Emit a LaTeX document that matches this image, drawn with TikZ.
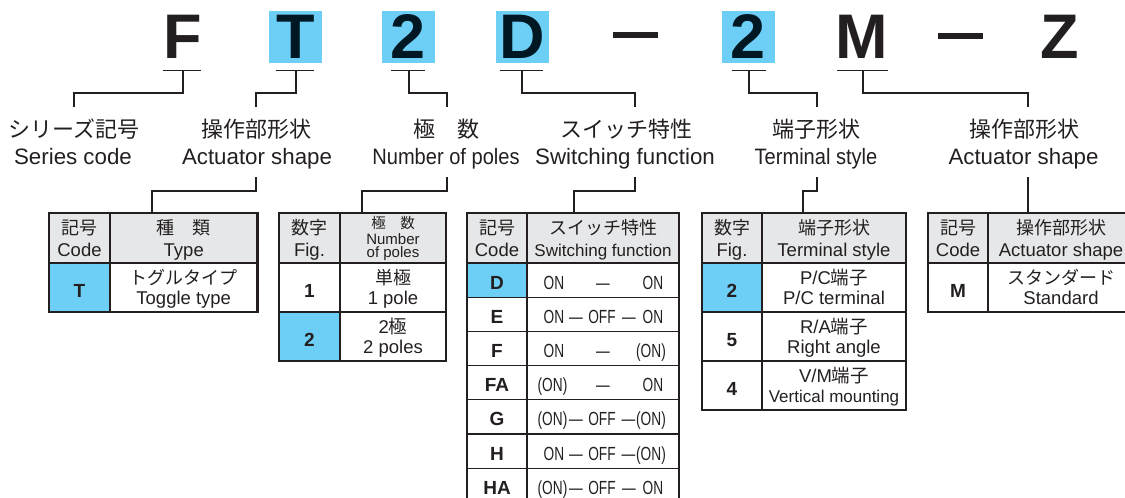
\documentclass[tikz,border=0pt]{standalone}
\usepackage{fontspec}
\setmainfont{Liberation Sans}
\newfontfamily\jp{Noto Sans CJK JP}
\newfontfamily\cond[FakeStretch=0.72]{Liberation Sans}
\newfontfamily\semicond[FakeStretch=0.9]{Liberation Sans}
\definecolor{cy}{HTML}{6DCFF6}
\definecolor{hd}{HTML}{E6E7E8}
\definecolor{ink}{HTML}{231F20}
\definecolor{navy}{HTML}{001824}
\begin{document}
\begin{tikzpicture}[x=1pt,y=-1pt,
  big/.style={font=\fontsize{63}{63}\selectfont\bfseries, inner sep=0pt, minimum width=53pt, minimum height=52pt, text=ink},
  hl/.style={big, fill=cy, text=navy},
  dashbar/.style={fill=ink, inner sep=0pt, minimum width=45pt, minimum height=6pt},
  link/.style={draw=ink, line width=1.3pt},
  lab/.style={font=\fontsize{22.3}{26}\selectfont, anchor=base, inner sep=0pt, text=ink},
  labn/.style={font=\semicond\fontsize{22.3}{26}\selectfont, anchor=base, inner sep=0pt, text=ink},
  labjp/.style={font=\jp\fontsize{22}{26}\selectfont, anchor=base, inner sep=0pt, text=ink},
  thin/.style={draw=ink, line width=1.1pt},
  frame/.style={draw=ink, line width=2.2pt},
  hjp/.style={font=\jp\fontsize{18}{20}\selectfont, anchor=base, inner sep=0pt, text=ink},
  hen/.style={font=\fontsize{18.5}{20}\selectfont, anchor=base, inner sep=0pt, text=ink},
  sjp/.style={font=\jp\fontsize{14.5}{16}\selectfont, anchor=base, inner sep=0pt, text=ink},
  sen/.style={font=\fontsize{15}{16}\selectfont, anchor=base, inner sep=0pt, text=ink},
  codeb/.style={font=\fontsize{19}{20}\selectfont\bfseries, anchor=base, inner sep=0pt, text=ink},
  sw/.style={font=\cond\fontsize{19}{20}\selectfont, anchor=base, inner sep=0pt, text=ink}
]
\useasboundingbox (0,0) rectangle (1125,498);

% ---------- model code letters ----------
\node[big] (cF) at (183,37) {F};
\node[hl]  (cT) at (295.5,37) {T};
\node[hl]  (c2) at (408.5,37) {2};
\node[hl]  (cD) at (522,37) {D};
\node[dashbar] (d1) at (635.5,35) {};
\node[hl]  (c2b) at (748,37) {2};
\node[big] (cM) at (862,37) {M};
\node[dashbar] (d2) at (960.5,36) {};
\node[big] (cZ) at (1059.5,37) {Z};

% underlines
\coordinate (uF) at (183,70.3);
\coordinate (uT) at (296,70.3);
\coordinate (u2) at (409,70.3);
\coordinate (uD) at (522,70.3);
\coordinate (u2b) at (749,70.3);
\coordinate (uM) at (863,70.3);
\draw[link] (163,70.3) -- (201,70.3);
\draw[link] (276,70.3) -- (314,70.3);
\draw[link] (391,70.3) -- (425,70.3);
\draw[link] (500,70.3) -- (543,70.3);
\draw[link] (732,70.3) -- (766,70.3);
\draw[link] (837,70.3) -- (888,70.3);

% label tops
\coordinate (l1) at (74,107);
\coordinate (l2) at (256,107);
\coordinate (l3) at (447,107);
\coordinate (l4) at (635,107);
\coordinate (l5) at (817,107);
\coordinate (l6) at (1028,107);
\draw[link] (uF) -- (183,93) -| (l1);
\draw[link] (uT) -- (296,93) -| (l2);
\draw[link] (u2) -- (409,93) -| (l3);
\draw[link] (uD) -- (522,93) -| (l4);
\draw[link] (u2b) -- (749,93) -| (l5);
\draw[link] (uM) -- (863,93) -| (l6);

% ---------- labels ----------
\node[labjp] (j1) at (74,137) {シリーズ記号};
\node[lab]   (e1) at (73,164) {Series code};
\node[labjp] (j2) at (256.5,137) {操作部形状};
\node[lab]   (e2) at (257,164) {Actuator shape};
\node[labjp] (j3) at (446.5,137) {極　数};
\node[labn]  (e3) at (446,164) {Number of poles};
\node[labjp] (j4) at (626,137) {スイッチ特性};
\node[lab]   (e4) at (625,164) {Switching function};
\node[labjp] (j5) at (816.5,137) {端子形状};
\node[labn]  (e5) at (816,164) {Terminal style};
\node[labjp] (j6) at (1024,137) {操作部形状};
\node[lab]   (e6) at (1023.5,164) {Actuator shape};

% connectors from labels to tables
\coordinate (b2) at (256,177);
\coordinate (b3) at (447,177);
\coordinate (b4) at (635,177);
\coordinate (b5) at (817,177);
\coordinate (b6) at (1028,177);
\coordinate (t1) at (152,213);
\coordinate (t2) at (362,213);
\coordinate (t3) at (574,213);
\coordinate (t4) at (803,213);
\coordinate (t5) at (1028,213);
\draw[link] (b2) -- (256,191) -| (t1);
\draw[link] (b3) -- (447,191) -| (t2);
\draw[link] (b4) -- (635,191) -| (t3);
\draw[link] (b5) -- (817,191) -| (t4);
\draw[link] (b6) -- (t5);

% ---------- Table 1 : type ----------
\fill[hd] (49,213) rectangle (257.5,263);
\fill[cy] (49,263) rectangle (110,312);
\draw[thin] (49,263) -- (257.5,263) (110,213) -- (110,312);
\draw[frame] (49,213) rectangle (257.5,312);
\node[hjp] (t1h1) at (79.5,234) {記号};
\node[hen] (t1h2) at (79.5,256) {Code};
\node[hjp] (t1h3) at (183.75,234) {種　類};
\node[hen] (t1h4) at (183.75,256) {Type};
\node[codeb] (t1c1) at (79.5,297) {T};
\node[hjp] (t1r1) at (183.75,284) {トグルタイプ};
\node[hen] (t1r2) at (183.75,304.5) {Toggle type};

% ---------- Table 2 : poles ----------
\fill[hd] (279,213) rectangle (446,263);
\fill[cy] (279,312) rectangle (340,361);
\draw[thin] (279,263) -- (446,263) (279,312) -- (446,312) (340,213) -- (340,361);
\draw[frame] (279,213) rectangle (446,361);
\node[hjp] (t2h1) at (309.5,234) {数字};
\node[hen] (t2h2) at (309.5,256) {Fig.};
\node[sjp] (t2h3) at (393,228) {極　数};
\node[sen] (t2h4) at (393,244) {Number};
\node[sen] (t2h5) at (393,257.5) {of poles};
\node[codeb] (t2c1) at (309.5,297) {1};
\node[hjp] (t2r1) at (393,284) {単極};
\node[hen] (t2r2) at (393,304.5) {1 pole};
\node[codeb] (t2c2) at (309.5,346) {2};
\node[hen] (t2r3) at (393,333) {2{\jp 極}};
\node[hen] (t2r4) at (393,353.5) {2 poles};

% ---------- Table 3 : switching function ----------
\fill[hd] (467,213) rectangle (679,263);
\fill[cy] (467,263) rectangle (527,297.2);
\draw[thin] (467,263) -- (679,263)
  (467,297.2) -- (679,297.2) (467,331.4) -- (679,331.4)
  (467,365.6) -- (679,365.6) (467,399.8) -- (679,399.8)
  (467,434) -- (679,434) (467,468.2) -- (679,468.2)
  (527,213) -- (527,503);
\draw[frame] (467,503) -- (467,213) -- (679,213) -- (679,503) -- cycle;
\node[hjp] (t3h1) at (497,234) {記号};
\node[hen] (t3h2) at (497,256) {Code};
\node[hjp] (t3h3) at (603,234) {スイッチ特性};
\node[hen,font=\fontsize{17}{20}\selectfont] (t3h4) at (603,256) {Switching function};
% row D
\node[codeb] (cd) at (497,289) {D};
\node[sw] (d1a) at (554,289) {ON};
\node[sw] (d1b) at (603,289) {—};
\node[sw] (d1c) at (653,289) {ON};
% row E
\node[codeb] (ce) at (497,323.2) {E};
\node[sw] (e1a) at (554,323.2) {ON};
\node[sw] (e1b) at (576,323.2) {—};
\node[sw] (e1c) at (602,323.2) {OFF};
\node[sw] (e1d) at (629,323.2) {—};
\node[sw] (e1e) at (653,323.2) {ON};
% row F
\node[codeb] (cf) at (497,357.4) {F};
\node[sw] (f1a) at (554,357.4) {ON};
\node[sw] (f1b) at (603,357.4) {—};
\node[sw] (f1c) at (651,357.4) {(ON)};
% row FA
\node[codeb] (cfa) at (497,391.6) {FA};
\node[sw] (fa1a) at (552.5,391.6) {(ON)};
\node[sw] (fa1b) at (603,391.6) {—};
\node[sw] (fa1c) at (653,391.6) {ON};
% row G
\node[codeb] (cg) at (497,425.8) {G};
\node[sw] (g1a) at (552.5,425.8) {(ON)};
\node[sw] (g1b) at (576,425.8) {—};
\node[sw] (g1c) at (602,425.8) {OFF};
\node[sw] (g1d) at (628.5,425.8) {—};
\node[sw] (g1e) at (651,425.8) {(ON)};
% row H
\node[codeb] (ch) at (497,460) {H};
\node[sw] (h1a) at (554,460) {ON};
\node[sw] (h1b) at (576,460) {—};
\node[sw] (h1c) at (602,460) {OFF};
\node[sw] (h1d) at (628.5,460) {—};
\node[sw] (h1e) at (651,460) {(ON)};
% row HA
\node[codeb] (cha) at (497,494.2) {HA};
\node[sw] (ha1a) at (552.5,494.2) {(ON)};
\node[sw] (ha1b) at (576,494.2) {—};
\node[sw] (ha1c) at (602,494.2) {OFF};
\node[sw] (ha1d) at (629,494.2) {—};
\node[sw] (ha1e) at (653,494.2) {ON};

% ---------- Table 4 : terminal style ----------
\fill[hd] (702,213) rectangle (906,263);
\fill[cy] (702,263) rectangle (762,312);
\draw[thin] (702,263) -- (906,263) (702,312) -- (906,312) (702,361) -- (906,361) (762,213) -- (762,410);
\draw[frame] (702,213) rectangle (906,410);
\node[hjp] (t4h1) at (732,234) {数字};
\node[hen] (t4h2) at (732,256) {Fig.};
\node[hjp] (t4h3) at (834,234) {端子形状};
\node[hen] (t4h4) at (834,256) {Terminal style};
\node[codeb] (t4c1) at (732,297) {2};
\node[hen] (t4r1) at (834,284) {P/C{\jp 端子}};
\node[hen] (t4r2) at (834,304.5) {P/C terminal};
\node[codeb] (t4c2) at (732,346) {5};
\node[hen] (t4r3) at (834,333) {R/A{\jp 端子}};
\node[hen] (t4r4) at (834,353.5) {Right angle};
\node[codeb] (t4c3) at (732,395) {4};
\node[hen] (t4r5) at (834,382) {V/M{\jp 端子}};
\node[hen,font=\fontsize{17}{20}\selectfont] (t4r6) at (834,402.5) {Vertical mounting};

% ---------- Table 5 : actuator shape ----------
\fill[hd] (928,213) rectangle (1134,263);
\draw[thin] (928,263) -- (1134,263) (988,213) -- (988,312);
\draw[frame] (928,213) rectangle (1134,312);
\node[hjp] (t5h1) at (958,234) {記号};
\node[hen] (t5h2) at (958,256) {Code};
\node[hjp] (t5h3) at (1061,234) {操作部形状};
\node[hen] (t5h4) at (1061,256) {Actuator shape};
\node[codeb] (t5c1) at (958,297) {M};
\node[hjp] (t5r1) at (1061,284) {スタンダード};
\node[hen] (t5r2) at (1061,304.5) {Standard};
\end{tikzpicture}
\end{document}
